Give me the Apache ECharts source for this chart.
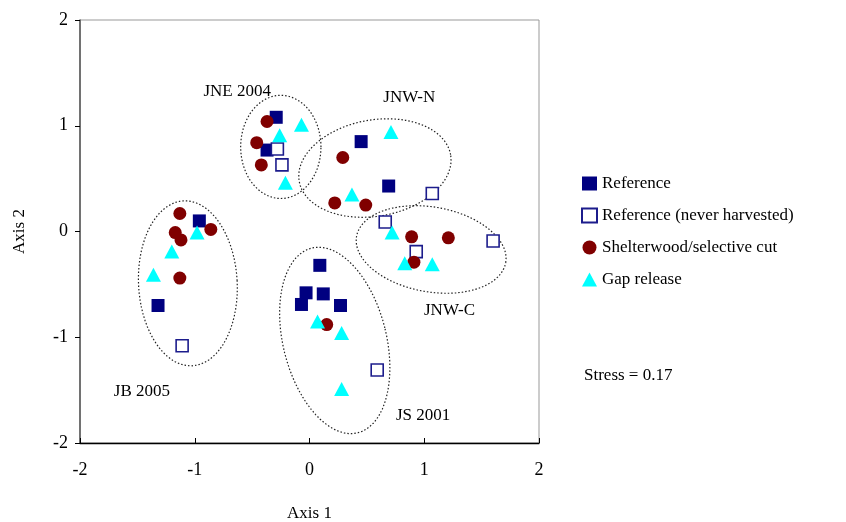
<!DOCTYPE html>
<html>
<head>
<meta charset="utf-8">
<script src="https://cdn.jsdelivr.net/npm/echarts@6/dist/echarts.min.js"></script>
<style>
  html, body { margin: 0; padding: 0; background: #fff; }
  #chart { width: 846px; height: 522px; }
</style>
</head>
<body>
<div id="chart"></div>
<script>
// NMS ordination points [axis1, axis2]
const reference = [
  [-1.32, -0.70], [-0.96, 0.10], [-0.29, 1.08], [-0.37, 0.77],
  [0.45, 0.85], [0.69, 0.43], [0.09, -0.32], [-0.03, -0.58],
  [-0.07, -0.69], [0.12, -0.59], [0.27, -0.70]
]
const referenceNever = [
  [-1.11, -1.08], [-0.28, 0.78], [-0.24, 0.63], [1.07, 0.36],
  [0.66, 0.09], [0.93, -0.19], [1.60, -0.09], [0.59, -1.31]
]
const shelterwood = [
  [-1.13, 0.17], [-1.17, -0.01], [-1.12, -0.08], [-0.86, 0.02], [-1.13, -0.44],
  [-0.37, 1.04], [-0.46, 0.84], [-0.42, 0.63],
  [0.29, 0.70], [0.22, 0.27], [0.49, 0.25],
  [0.89, -0.05], [1.21, -0.06], [0.91, -0.29],
  [0.15, -0.88]
]
const gapRelease = [
  [-0.98, -0.01], [-1.20, -0.19], [-1.36, -0.41],
  [-0.07, 1.01], [-0.26, 0.91], [-0.21, 0.46],
  [0.71, 0.94], [0.37, 0.35],
  [0.72, -0.01], [0.83, -0.30], [1.07, -0.31],
  [0.07, -0.85], [0.28, -0.96], [0.28, -1.49]
]

// site groups: centre, semi-axes (x units), tilt in degrees
const siteEllipses = [
  { name: 'JB 2005', cx: -1.06, cy: -0.49, a: 0.43, b: 0.72, deg: 3 },
  { name: 'JNE 2004', cx: -0.25, cy: 0.80, a: 0.35, b: 0.45, deg: 0 },
  { name: 'JNW-N', cx: 0.57, cy: 0.60, a: 0.67, b: 0.42, deg: 10 },
  { name: 'JNW-C', cx: 1.06, cy: -0.17, a: 0.66, b: 0.37, deg: -10 },
  { name: 'JS 2001', cx: 0.22, cy: -1.03, a: 0.45, b: 0.83, deg: 14 }
]
const siteLabels = [
  ['JB 2005', -1.46, -1.51],
  ['JNE 2004', -0.63, 1.32],
  ['JNW-N', 0.87, 1.27],
  ['JNW-C', 1.22, -0.75],
  ['JS 2001', 0.99, -1.74]
]
const stressText = 'Stress = 0.17'

const FONT = 'Liberation Serif'
const XY_RATIO = 114.7 / 105.75 // px per x unit vs px per y unit

function ellipsePath(e) {
  const pts = []
  const th = e.deg * Math.PI / 180
  for (let i = 0; i <= 72; i++) {
    const t = i / 72 * 2 * Math.PI
    const u = e.a * Math.cos(t), v = e.b * Math.sin(t)
    const dx = u * Math.cos(th) - v * Math.sin(th)
    const dy = u * Math.sin(th) + v * Math.cos(th)
    pts.push([e.cx + dx, e.cy + dy * XY_RATIO])
  }
  return pts
}

const chart = echarts.init(document.getElementById('chart'))

const axisCommon = {
  type: 'value',
  min: -2,
  max: 2,
  interval: 1,
  splitLine: { show: false },
  nameTextStyle: { fontFamily: FONT, fontSize: 17, color: '#000' },
  axisLabel: { fontFamily: FONT, fontSize: 18, color: '#000' },
  axisLine: { onZero: false, lineStyle: { color: '#000', width: 1.3 } },
  axisTick: { length: 5, lineStyle: { color: '#000' } }
}

const series = []
siteEllipses.forEach(e => {
  series.push({
    name: e.name,
    type: 'line',
    data: ellipsePath(e),
    showSymbol: false,
    smooth: false,
    silent: true,
    z: 1,
    lineStyle: { color: '#222', width: 1.2, type: [1.5, 2] }
  })
})
series.push(
  {
    name: 'Reference',
    type: 'scatter',
    data: reference,
    symbol: 'rect',
    symbolSize: 13,
    z: 3,
    itemStyle: { color: '#000080', opacity: 1 }
  },
  {
    name: 'Reference (never harvested)',
    type: 'scatter',
    data: referenceNever,
    symbol: 'rect',
    symbolSize: 12,
    z: 3,
    itemStyle: { color: '#fff', borderColor: '#1c1c8c', borderWidth: 1.6, opacity: 1 }
  },
  {
    name: 'Shelterwood/selective cut',
    type: 'scatter',
    data: shelterwood,
    symbol: 'circle',
    symbolSize: 13,
    z: 3,
    itemStyle: { color: '#800000', opacity: 1 }
  },
  {
    name: 'Gap release',
    type: 'scatter',
    data: gapRelease,
    symbol: 'triangle',
    symbolSize: [15, 14],
    z: 4,
    itemStyle: { color: '#00ffff', opacity: 1 }
  },
  {
    name: 'site labels',
    type: 'scatter',
    data: siteLabels.map(l => ({ value: [l[1], l[2]], name: l[0] })),
    symbolSize: 1,
    silent: true,
    itemStyle: { color: 'rgba(0,0,0,0)', opacity: 1 },
    label: {
      show: true,
      position: 'inside',
      formatter: p => p.name,
      fontFamily: FONT,
      fontSize: 17,
      color: '#000'
    }
  }
)

const option = {
  animation: false,
  backgroundColor: '#fff',
  grid: {
    left: 80,
    right: 307,
    top: 20,
    bottom: 79,
    outerBoundsMode: 'none',
    show: true,
    borderColor: '#999',
    borderWidth: 1
  },
  xAxis: {
    ...axisCommon,
    name: 'Axis 1',
    nameLocation: 'middle',
    nameGap: 62,
    axisTick: { inside: true, length: 5, lineStyle: { color: '#000' } },
    axisLabel: { ...axisCommon.axisLabel, margin: 18 }
  },
  yAxis: {
    ...axisCommon,
    name: 'Axis 2',
    nameLocation: 'middle',
    nameGap: 52,
    axisLine: { onZero: false, lineStyle: { color: '#555', width: 1.5 } },
    axisLabel: { ...axisCommon.axisLabel, margin: 12 }
  },
  legend: {
    data: ['Reference', 'Reference (never harvested)', 'Shelterwood/selective cut', 'Gap release'],
    orient: 'vertical',
    left: 576,
    top: 170,
    itemGap: 15,
    itemWidth: 15,
    itemHeight: 14,
    textStyle: { fontFamily: FONT, fontSize: 17, color: '#000' }
  },
  graphic: [{
    type: 'text',
    left: 584,
    top: 367,
    style: { text: stressText, font: '17px "Liberation Serif"', fill: '#000' }
  }],
  series: series
}

chart.setOption(option)
</script>
</body>
</html>
